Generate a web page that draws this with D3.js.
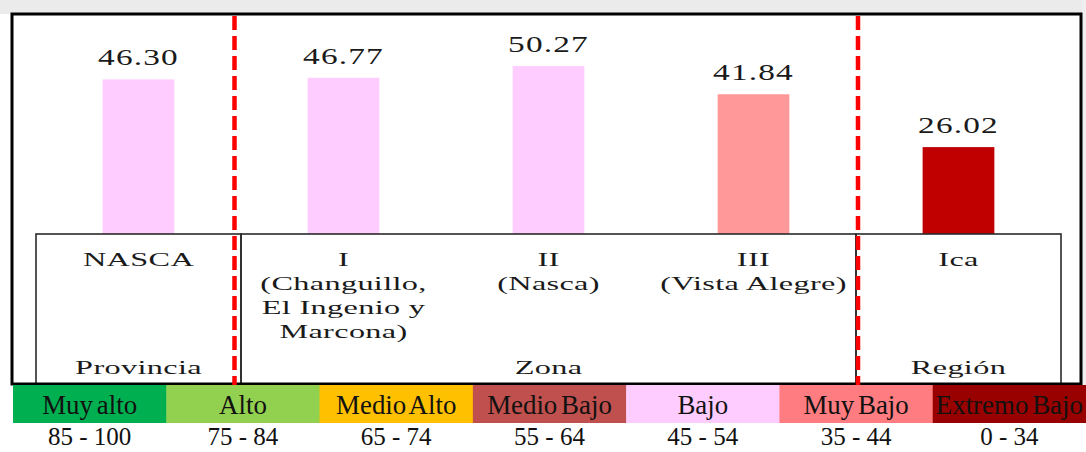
<!DOCTYPE html>
<html>
<head>
<meta charset="utf-8">
<script src="https://cdn.jsdelivr.net/npm/d3@7"></script>
<style>
  html, body { margin: 0; padding: 0; background: #ffffff; }
  svg { display: block; }
  text { font-family: "Liberation Serif", "Times New Roman", serif; fill: #1a1a1a; }
</style>
</head>
<body>
<script>
// ---- Data ----
const categories = ["NASCA", "I (Changuillo, El Ingenio y Marcona)", "II (Nasca)", "III (Vista Alegre)", "Ica"];
const categoryLines = [["NASCA"], ["I", "(Changuillo,", "El Ingenio y", "Marcona)"], ["II", "(Nasca)"], ["III", "(Vista Alegre)"], ["Ica"]];
const values = [46.30, 46.77, 50.27, 41.84, 26.02];
const barColors = ["#FFCCFF", "#FFCCFF", "#FFCCFF", "#FF9999", "#C00000"];
const groupNames = ["Provincia", "Zona", "Región"];
const groupOf = [0, 1, 1, 1, 2];

const legendLabels = ["Muy alto", "Alto", "Medio Alto", "Medio Bajo", "Bajo", "Muy Bajo", "Extremo Bajo"];
const legendRanges = ["85 - 100", "75 - 84", "65 - 74", "55 - 64", "45 - 54", "35 - 44", "0 - 34"];
const legendColors = ["#00B050", "#92D050", "#FFC000", "#C0504D", "#FFCCFF", "#FF7C80", "#990000"];

// ---- Layout ----
const W = 1086, H = 452;
const svg = d3.select("body").append("svg").attr("width", W).attr("height", H);

// faint gray top band (background of original slide)
svg.append("rect").attr("x", 0).attr("y", 0).attr("width", W).attr("height", 14).attr("fill", "#ebebeb");
svg.append("rect").attr("x", 1082).attr("y", 0).attr("width", 4).attr("height", 385).attr("fill", "#efefef");

const frame = {x0: 12, y0: 14, x1: 1081, y1: 384};
svg.append("rect").attr("x", frame.x0).attr("y", frame.y0)
  .attr("width", frame.x1 - frame.x0).attr("height", frame.y1 - frame.y0)
  .attr("fill", "#ffffff");

const x = d3.scaleBand().domain(categories).range([36, 1061]).paddingInner(0.65).paddingOuter(0.325);
const y = d3.scaleLinear().domain([0, 60]).range([234, 33.6]);
const step = x.step();
const bandStart = i => x.range()[0] + i * step;
const bandCenter = d => x(d) + x.bandwidth() / 2;

// bars
svg.append("g").selectAll("rect").data(values).join("rect")
  .attr("x", (d, i) => x(categories[i]))
  .attr("y", d => y(d))
  .attr("width", x.bandwidth())
  .attr("height", d => y(0) - y(d))
  .attr("fill", (d, i) => barColors[i]);

// value labels
const valFmt = d3.format(".2f");
svg.append("g").selectAll("text").data(values).join("text")
  .attr("transform", (d, i) => `translate(${bandCenter(categories[i])},${y(d) - 14}) scale(1.45,1)`)
  .attr("text-anchor", "middle")
  .attr("font-size", 23)
  .attr("letter-spacing", 0.8)
  .text(d => valFmt(d));

// group boxes
const groups = groupNames.map((g, gi) => {
  const idx = groupOf.map((v, i) => v === gi ? i : -1).filter(i => i >= 0);
  return {name: g, x0: bandStart(idx[0]), x1: bandStart(idx[idx.length - 1] + 1)};
});
const boxG = svg.append("g");
boxG.selectAll("rect").data(groups).join("rect")
  .attr("x", d => d.x0).attr("y", y(0))
  .attr("width", d => d.x1 - d.x0).attr("height", frame.y1 - y(0) + 2)
  .attr("fill", "none").attr("stroke", "#2a2a2a").attr("stroke-width", 1.6);

// category labels
const catG = svg.append("g");
categoryLines.forEach((lines, i) => {
  lines.forEach((ln, j) => {
    catG.append("text")
      .attr("transform", `translate(${bandCenter(categories[i])},${266 + j * 24}) scale(1.7,1)`)
      .attr("text-anchor", "middle")
      .attr("font-size", 19)
      .attr("letter-spacing", 0.2)
      .text(ln);
  });
});

// group labels
svg.append("g").selectAll("text").data(groups).join("text")
  .attr("transform", d => `translate(${(d.x0 + d.x1) / 2},${374}) scale(1.7,1)`)
  .attr("text-anchor", "middle")
  .attr("font-size", 19)
  .attr("letter-spacing", 0.2)
  .text(d => d.name);

// frame border
svg.append("rect").attr("x", frame.x0).attr("y", frame.y0)
  .attr("width", frame.x1 - frame.x0).attr("height", frame.y1 - frame.y0)
  .attr("fill", "none").attr("stroke", "#000").attr("stroke-width", 3);

// red dashed separators
const seps = [bandStart(1) - 6.5, bandStart(4) + 2];
svg.append("g").selectAll("line").data(seps).join("line")
  .attr("x1", d => d).attr("x2", d => d)
  .attr("y1", frame.y0 + 2).attr("y2", frame.y1 + 2)
  .attr("stroke", "#FF0000").attr("stroke-width", 4.5)
  .attr("stroke-dasharray", "14,6");

// legend
const lx = d3.scaleBand().domain(legendLabels).range([13, 1086]);
const legG = svg.append("g");
legG.selectAll("rect").data(legendLabels).join("rect")
  .attr("x", d => lx(d)).attr("y", 385)
  .attr("width", lx.bandwidth() + 0.5).attr("height", 38)
  .attr("fill", (d, i) => legendColors[i]);
legG.selectAll("text.lab").data(legendLabels).join("text")
  .attr("class", "lab")
  .attr("transform", d => `translate(${lx(d) + lx.bandwidth() / 2},414) scale(0.96,1)`)
  .attr("text-anchor", "middle")
  .attr("font-size", 28)
  .attr("word-spacing", -3)
  .style("fill", "#111")
  .text(d => d);
legG.selectAll("text.rng").data(legendRanges).join("text")
  .attr("class", "rng")
  .attr("x", (d, i) => lx(legendLabels[i]) + lx.bandwidth() / 2).attr("y", 445)
  .attr("text-anchor", "middle")
  .attr("font-size", 25)
  .style("fill", "#111")
  .text(d => d);
</script>
</body>
</html>
